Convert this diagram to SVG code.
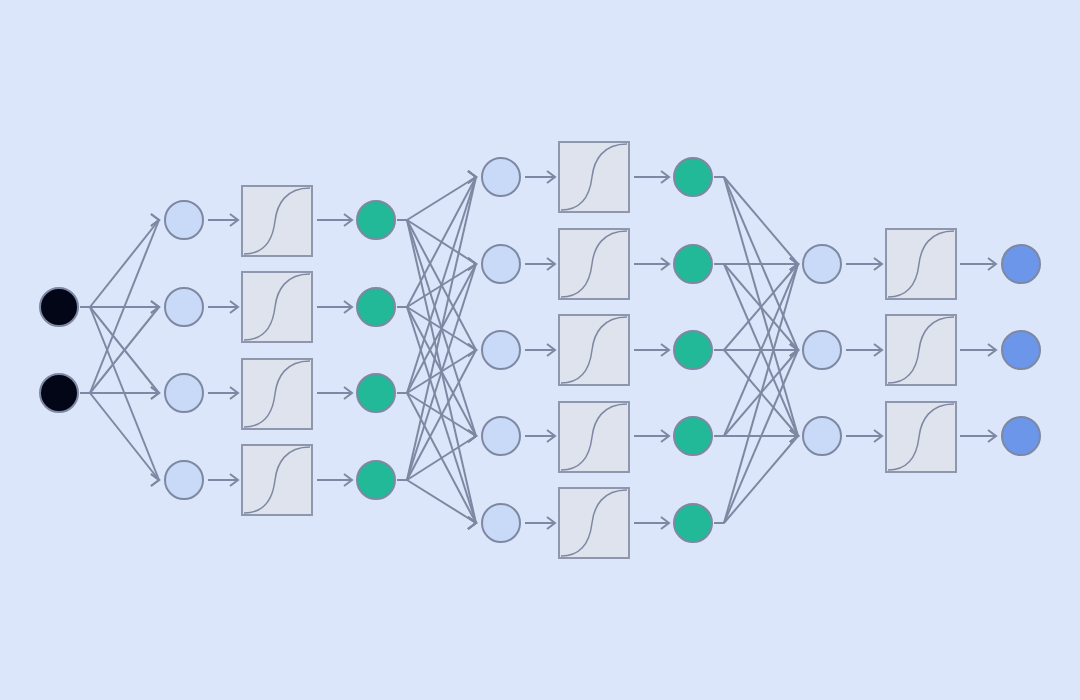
<svg xmlns="http://www.w3.org/2000/svg" width="1080" height="700" viewBox="0 0 1080 700">
<defs>
<style>
.e{stroke:#7e88a2;stroke-width:2;fill:none}
.a{marker-end:url(#m)}
.c{stroke:#7e88a2;stroke-width:2}
.in{fill:#020617}.h{fill:#c8daf7}.g{fill:#21b998}.o{fill:#6b96e9}
.b{fill:#dee3ed;stroke:#8e97ad;stroke-width:2}
.s{fill:none;stroke:#7e88a2;stroke-width:1.5}
</style>
<marker id="m" markerWidth="12" markerHeight="14" refX="0" refY="0" viewBox="-10 -7 12 14" orient="0" markerUnits="userSpaceOnUse"><path d="M-8,-6 L0,0 L-8,6" fill="none" stroke="#7e88a2" stroke-width="2"/></marker>
<g id="sig"><rect class="b" x="0" y="0" width="70" height="70"/><path class="s" d="M2,68 C24,68 31,52 33,35 S44,2 68,2"/></g>
</defs>
<rect width="1080" height="700" fill="#dbe6fa"/>
<g id="connectors">
<path class="e" d="M80,307H90M80,393H90M397,220H407M397,307H407M397,393H407M397,480H407M714,177H724M714,264H724M714,350H724M714,436H724M714,523H724"/>
<path class="e a" d="M90,307L159,220"/><path class="e a" d="M90,307L159,307"/><path class="e a" d="M90,307L159,393"/><path class="e a" d="M90,307L159,480"/>
<path class="e a" d="M90,393L159,220"/><path class="e a" d="M90,393L159,307"/><path class="e a" d="M90,393L159,393"/><path class="e a" d="M90,393L159,480"/>
<path class="e a" d="M208,220H238"/><path class="e a" d="M208,307H238"/><path class="e a" d="M208,393H238"/><path class="e a" d="M208,480H238"/>
<path class="e a" d="M317,220H352"/><path class="e a" d="M317,307H352"/><path class="e a" d="M317,393H352"/><path class="e a" d="M317,480H352"/>
<path class="e a" d="M407,220L476,177"/><path class="e a" d="M407,220L476,264"/><path class="e a" d="M407,220L476,350"/><path class="e a" d="M407,220L476,436"/><path class="e a" d="M407,220L476,523"/>
<path class="e a" d="M407,307L476,177"/><path class="e a" d="M407,307L476,264"/><path class="e a" d="M407,307L476,350"/><path class="e a" d="M407,307L476,436"/><path class="e a" d="M407,307L476,523"/>
<path class="e a" d="M407,393L476,177"/><path class="e a" d="M407,393L476,264"/><path class="e a" d="M407,393L476,350"/><path class="e a" d="M407,393L476,436"/><path class="e a" d="M407,393L476,523"/>
<path class="e a" d="M407,480L476,177"/><path class="e a" d="M407,480L476,264"/><path class="e a" d="M407,480L476,350"/><path class="e a" d="M407,480L476,436"/><path class="e a" d="M407,480L476,523"/>
<path class="e a" d="M525,177H555"/><path class="e a" d="M525,264H555"/><path class="e a" d="M525,350H555"/><path class="e a" d="M525,436H555"/><path class="e a" d="M525,523H555"/>
<path class="e a" d="M634,177H669"/><path class="e a" d="M634,264H669"/><path class="e a" d="M634,350H669"/><path class="e a" d="M634,436H669"/><path class="e a" d="M634,523H669"/>
<path class="e a" d="M724,177L798,264"/><path class="e a" d="M724,177L798,350"/><path class="e a" d="M724,177L798,436"/>
<path class="e a" d="M724,264L798,264"/><path class="e a" d="M724,264L798,350"/><path class="e a" d="M724,264L798,436"/>
<path class="e a" d="M724,350L798,264"/><path class="e a" d="M724,350L798,350"/><path class="e a" d="M724,350L798,436"/>
<path class="e a" d="M724,436L798,264"/><path class="e a" d="M724,436L798,350"/><path class="e a" d="M724,436L798,436"/>
<path class="e a" d="M724,523L798,264"/><path class="e a" d="M724,523L798,350"/><path class="e a" d="M724,523L798,436"/>
<path class="e a" d="M846,264H882"/><path class="e a" d="M846,350H882"/><path class="e a" d="M846,436H882"/>
<path class="e a" d="M960,264H996"/><path class="e a" d="M960,350H996"/><path class="e a" d="M960,436H996"/>
</g>
<g id="in1"><circle class="c in" cx="59" cy="307" r="19"/></g>
<g id="in2"><circle class="c in" cx="59" cy="393" r="19"/></g>
<g id="h1"><circle class="c h" cx="184" cy="220" r="19"/></g>
<g id="h2"><circle class="c h" cx="184" cy="307" r="19"/></g>
<g id="h3"><circle class="c h" cx="184" cy="393" r="19"/></g>
<g id="h4"><circle class="c h" cx="184" cy="480" r="19"/></g>
<g id="s1a"><use href="#sig" x="242" y="186"/></g>
<g id="s1b"><use href="#sig" x="242" y="272"/></g>
<g id="s1c"><use href="#sig" x="242" y="359"/></g>
<g id="s1d"><use href="#sig" x="242" y="445"/></g>
<g id="g1"><circle class="c g" cx="376" cy="220" r="19"/></g>
<g id="g2"><circle class="c g" cx="376" cy="307" r="19"/></g>
<g id="g3"><circle class="c g" cx="376" cy="393" r="19"/></g>
<g id="g4"><circle class="c g" cx="376" cy="480" r="19"/></g>
<g id="k1"><circle class="c h" cx="501" cy="177" r="19"/></g>
<g id="k2"><circle class="c h" cx="501" cy="264" r="19"/></g>
<g id="k3"><circle class="c h" cx="501" cy="350" r="19"/></g>
<g id="k4"><circle class="c h" cx="501" cy="436" r="19"/></g>
<g id="k5"><circle class="c h" cx="501" cy="523" r="19"/></g>
<g id="s2a"><use href="#sig" x="559" y="142"/></g>
<g id="s2b"><use href="#sig" x="559" y="229"/></g>
<g id="s2c"><use href="#sig" x="559" y="315"/></g>
<g id="s2d"><use href="#sig" x="559" y="402"/></g>
<g id="s2e"><use href="#sig" x="559" y="488"/></g>
<g id="q1"><circle class="c g" cx="693" cy="177" r="19"/></g>
<g id="q2"><circle class="c g" cx="693" cy="264" r="19"/></g>
<g id="q3"><circle class="c g" cx="693" cy="350" r="19"/></g>
<g id="q4"><circle class="c g" cx="693" cy="436" r="19"/></g>
<g id="q5"><circle class="c g" cx="693" cy="523" r="19"/></g>
<g id="p1"><circle class="c h" cx="822" cy="264" r="19"/></g>
<g id="p2"><circle class="c h" cx="822" cy="350" r="19"/></g>
<g id="p3"><circle class="c h" cx="822" cy="436" r="19"/></g>
<g id="s3a"><use href="#sig" x="886" y="229"/></g>
<g id="s3b"><use href="#sig" x="886" y="315"/></g>
<g id="s3c"><use href="#sig" x="886" y="402"/></g>
<g id="o1"><circle class="c o" cx="1021" cy="264" r="19"/></g>
<g id="o2"><circle class="c o" cx="1021" cy="350" r="19"/></g>
<g id="o3"><circle class="c o" cx="1021" cy="436" r="19"/></g>
</svg>
